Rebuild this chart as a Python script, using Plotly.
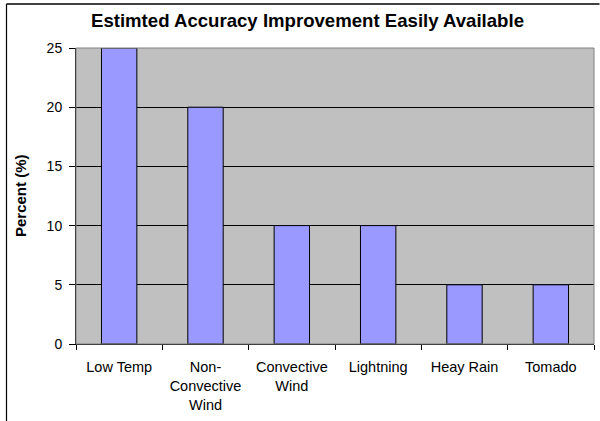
import plotly.graph_objects as go

categories = ["Low Temp", "Non-<br>Convective<br>Wind", "Convective<br>Wind", "Lightning", "Heay Rain", "Tomado"]
values = [25, 20, 10, 10, 5, 5]
y_ticks = [0, 5, 10, 15, 20, 25]

L, R, T, B = 76, 6, 48, 77
W, H = 600, 421
pw, ph = W - L - R, H - T - B

fig = go.Figure(go.Bar(
    x=categories, y=values,
    marker=dict(color="#9999FF", line=dict(color="black", width=1)),
    width=0.41,
))

def px2x(px):
    return (px - L) / pw

def py2y(py):
    return (H - B - py) / ph

fig.update_layout(
    width=W, height=H,
    margin=dict(l=L, r=R, t=T, b=B),
    paper_bgcolor="white",
    plot_bgcolor="#C0C0C0",
    showlegend=False,
    font=dict(family="Liberation Sans, Arial, sans-serif", size=15, color="black"),
    title=dict(text="<b>Estimted Accuracy Improvement Easily Available</b>",
               x=307.5 / W, xanchor="center", xref="container",
               y=1 - 20 / H, yanchor="middle", yref="container",
               font=dict(size=18.6, color="black")),
    xaxis=dict(
        showgrid=False, showline=True, linecolor="black", linewidth=1,
        ticks="outside", ticklen=5, tickcolor="black", tickson="boundaries",
        mirror=False, tickfont=dict(size=14.5), ticklabelstandoff=10,
    ),
    yaxis=dict(
        range=[0, 25], tickvals=y_ticks, showgrid=True, gridcolor="black", gridwidth=1,
        showline=True, linecolor="black", linewidth=1,
        ticks="outside", ticklen=6, tickcolor="black", zeroline=False,
        tickfont=dict(size=14), ticklabelstandoff=4,
    ),
    annotations=[
        dict(text="<b>Percent (%)</b>", textangle=-90, showarrow=False,
             xref="paper", yref="paper", x=px2x(20), y=py2y(196),
             xanchor="center", yanchor="middle", font=dict(size=15)),
    ],
    shapes=[
        # plot-area border
        dict(type="rect", xref="paper", yref="paper", x0=0, x1=1, y0=0, y1=1,
             line=dict(color="#808080", width=1), layer="above"),
        # outer chart frame (left and top edges)
        dict(type="line", xref="paper", yref="paper", x0=px2x(6.5), x1=px2x(6.5),
             y0=py2y(4), y1=py2y(440), line=dict(color="black", width=1.2)),
        dict(type="line", xref="paper", yref="paper", x0=px2x(6.5), x1=px2x(599.5),
             y0=py2y(4), y1=py2y(4), line=dict(color="black", width=1.5)),
    ],
)

fig.write_html("out.html", config={"displayModeBar": False},
               post_script="document.body.style.margin='0';")
